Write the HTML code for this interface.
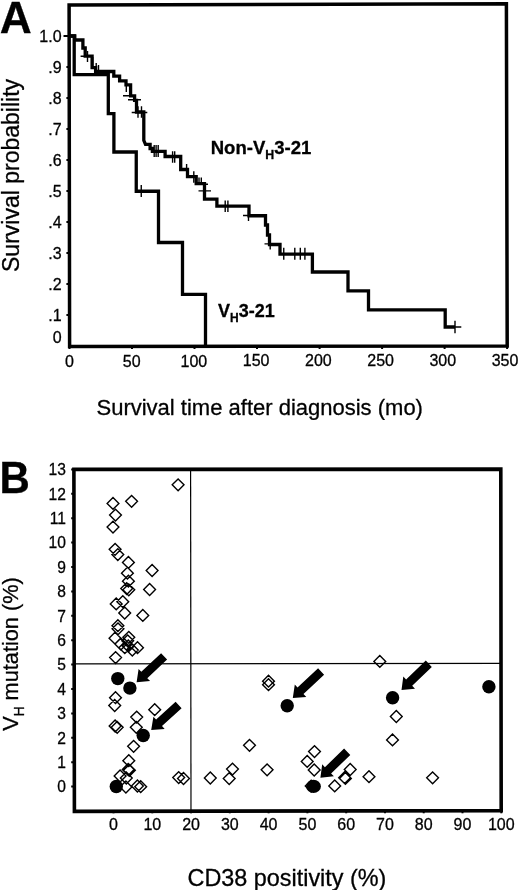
<!DOCTYPE html>
<html><head><meta charset="utf-8"><title>Figure</title>
<style>html,body{margin:0;padding:0;background:#fff}svg{display:block;filter:grayscale(1)}text{font-family:"Liberation Sans",Arial,sans-serif;fill:#000;stroke:#000;stroke-width:0.3px}</style>
</head><body>
<svg width="520" height="890" viewBox="0 0 520 890">
<rect width="520" height="890" fill="#fff"/>
<g opacity="0.999">
<g id="panelA">
<text x="-0.3" y="33" font-size="44.3" font-weight="bold">A</text>
<path d="M69.1,4.9 L506.4,3.8 L507.2,345.9 L69.6,346.6 Z" fill="none" stroke="#000" stroke-width="3.5" stroke-linejoin="miter"/>
<text x="61.6" y="343.0" font-size="16" text-anchor="end">0</text>
<line x1="66.4" y1="315.0" x2="68" y2="315.0" stroke="#000" stroke-width="2"/>
<text x="61.6" y="321.1" font-size="16" text-anchor="end">.1</text>
<line x1="66.4" y1="284.0" x2="68" y2="284.0" stroke="#000" stroke-width="2"/>
<text x="61.6" y="290.1" font-size="16" text-anchor="end">.2</text>
<line x1="66.4" y1="253.0" x2="68" y2="253.0" stroke="#000" stroke-width="2"/>
<text x="61.6" y="259.1" font-size="16" text-anchor="end">.3</text>
<line x1="66.4" y1="222.0" x2="68" y2="222.0" stroke="#000" stroke-width="2"/>
<text x="61.6" y="228.1" font-size="16" text-anchor="end">.4</text>
<line x1="66.4" y1="191.0" x2="68" y2="191.0" stroke="#000" stroke-width="2"/>
<text x="61.6" y="197.1" font-size="16" text-anchor="end">.5</text>
<line x1="66.4" y1="160.0" x2="68" y2="160.0" stroke="#000" stroke-width="2"/>
<text x="61.6" y="166.1" font-size="16" text-anchor="end">.6</text>
<line x1="66.4" y1="129.0" x2="68" y2="129.0" stroke="#000" stroke-width="2"/>
<text x="61.6" y="135.1" font-size="16" text-anchor="end">.7</text>
<line x1="66.4" y1="98.0" x2="68" y2="98.0" stroke="#000" stroke-width="2"/>
<text x="61.6" y="104.1" font-size="16" text-anchor="end">.8</text>
<line x1="66.4" y1="67.0" x2="68" y2="67.0" stroke="#000" stroke-width="2"/>
<text x="61.6" y="73.1" font-size="16" text-anchor="end">.9</text>
<line x1="63.5" y1="36.0" x2="68" y2="36.0" stroke="#000" stroke-width="2"/>
<text x="61.6" y="42.1" font-size="16" text-anchor="end">1.0</text>
<line x1="69.5" y1="346" x2="69.5" y2="349" stroke="#000" stroke-width="2"/>
<text x="69.5" y="366.8" font-size="16" text-anchor="middle">0</text>
<line x1="132.0" y1="346" x2="132.0" y2="349" stroke="#000" stroke-width="2"/>
<text x="131.7" y="366.7" font-size="16" text-anchor="middle">50</text>
<line x1="194.5" y1="346" x2="194.5" y2="349" stroke="#000" stroke-width="2"/>
<text x="193.9" y="366.5" font-size="16" text-anchor="middle">100</text>
<line x1="257.0" y1="346" x2="257.0" y2="349" stroke="#000" stroke-width="2"/>
<text x="256.1" y="366.4" font-size="16" text-anchor="middle">150</text>
<line x1="319.6" y1="346" x2="319.6" y2="349" stroke="#000" stroke-width="2"/>
<text x="318.4" y="366.3" font-size="16" text-anchor="middle">200</text>
<line x1="382.1" y1="346" x2="382.1" y2="349" stroke="#000" stroke-width="2"/>
<text x="380.6" y="366.2" font-size="16" text-anchor="middle">250</text>
<line x1="444.6" y1="346" x2="444.6" y2="349" stroke="#000" stroke-width="2"/>
<text x="442.8" y="366.0" font-size="16" text-anchor="middle">300</text>
<line x1="507.1" y1="346" x2="507.1" y2="349" stroke="#000" stroke-width="2"/>
<text x="505.0" y="365.9" font-size="16" text-anchor="middle">350</text>
<text transform="translate(18.7,272) rotate(-90)" font-size="23">Survival probability</text>
<text x="96.5" y="414.6" font-size="22">Survival time after diagnosis (mo)</text>
<path d="M69.5,36 H74.8 V40 H82.9 V48 H85.2 V56.2 H92.1 V67.7 H95.6 V71.5 H113.8 V76.2 H119.6 V80.8 H126 V84.8 H130.6 V95.8 H134.6 V100.4 H136.5 V112 H143.8 V140.4 L145.5,144.4 H150.1 V148.5 H152.4 V151.3 H165.1 V156.5 H180.7 V169.5 H187.5 V176.7 H196.2 V183.7 H204.5 V199.2 H216.9 V206.2 H249 V215.75 H265.5 V225 H267.5 V235 H269.5 V244.5 H280 V254.2 H312.4 V272 H348 V290.9 H368.5 V309.9 H445.2 V327 H455" fill="none" stroke="#000" stroke-width="3.3" stroke-linejoin="miter"/>
<path d="M69.5,36 H74.2 V74.6 H108.3 V113.7 H113.9 V152 H136.25 V191.25 H158.5 V242.5 H182.5 V294.3 H205.5 V346" fill="none" stroke="#000" stroke-width="3.3" stroke-linejoin="miter"/>
<path d="M87.5,51.0V62.0M92.7,57.0V67.0M96.2,63.0V73.0M98.5,65.0V75.0M126.3,84.0V92.0M138,106.2V117.8M141.5,106.2V117.8M154.2,145.0V157.0M156.1,145.0V157.0M158.2,145.0V157.0M172.6,151.2V162.8M174.7,151.2V162.8M186.6,164.0V171.0M193.8,171.2V182.8M199,177.5V184.5M201.3,177.5V184.5M225.2,200.4V212.0M227.9,200.4V212.0M248.5,210.0V221.0M270.2,238.4V249.4M283.75,247.7V259.7M294.8,247.7V259.7M300.3,247.7V259.7M304.9,247.7V259.7M455,320.8V333.2M141.25,185.0V197.0M80.6,56.2H88M123,95.8H134.6M128,99.8H141M131.7,112.5H147.3M200,184.2H208M198.5,190.9H211M243,215.5H254M264.5,243.9H275.5M448.8,327H461.3M136,191H147" fill="none" stroke="#000" stroke-width="1.4"/>
<text transform="translate(210.7,153.7) scale(1.03,1)" font-size="18" font-weight="bold">Non-V<tspan font-size="12" dy="4.8">H</tspan><tspan dy="-4.8">3-21</tspan></text>
<text x="218" y="317.2" font-size="18" font-weight="bold">V<tspan font-size="12" dy="5.1">H</tspan><tspan dy="-5.1">3-21</tspan></text>
</g>
<g id="panelB">
<text transform="translate(-0.6,493.4) scale(1,1.065)" font-size="42" font-weight="bold">B</text>
<path d="M73.9,469.4 L500.8,469.1 L501.2,810.6 L74.4,811.4 Z" fill="none" stroke="#000" stroke-width="3.6" stroke-linejoin="miter"/>
<line x1="71.2" y1="786.6" x2="73" y2="786.6" stroke="#000" stroke-width="2"/>
<text transform="translate(66,792.3) scale(0.92,1)" font-size="17" text-anchor="end">0</text>
<line x1="71.2" y1="762.2" x2="73" y2="762.2" stroke="#000" stroke-width="2"/>
<text transform="translate(66,767.9) scale(0.92,1)" font-size="17" text-anchor="end">1</text>
<line x1="71.2" y1="737.8" x2="73" y2="737.8" stroke="#000" stroke-width="2"/>
<text transform="translate(66,743.5) scale(0.92,1)" font-size="17" text-anchor="end">2</text>
<line x1="71.2" y1="713.4" x2="73" y2="713.4" stroke="#000" stroke-width="2"/>
<text transform="translate(66,719.1) scale(0.92,1)" font-size="17" text-anchor="end">3</text>
<line x1="71.2" y1="689.0" x2="73" y2="689.0" stroke="#000" stroke-width="2"/>
<text transform="translate(66,694.7) scale(0.92,1)" font-size="17" text-anchor="end">4</text>
<line x1="71.2" y1="664.6" x2="73" y2="664.6" stroke="#000" stroke-width="2"/>
<text transform="translate(66,670.3) scale(0.92,1)" font-size="17" text-anchor="end">5</text>
<line x1="71.2" y1="640.2" x2="73" y2="640.2" stroke="#000" stroke-width="2"/>
<text transform="translate(66,645.9) scale(0.92,1)" font-size="17" text-anchor="end">6</text>
<line x1="71.2" y1="615.8" x2="73" y2="615.8" stroke="#000" stroke-width="2"/>
<text transform="translate(66,621.5) scale(0.92,1)" font-size="17" text-anchor="end">7</text>
<line x1="71.2" y1="591.4" x2="73" y2="591.4" stroke="#000" stroke-width="2"/>
<text transform="translate(66,597.1) scale(0.92,1)" font-size="17" text-anchor="end">8</text>
<line x1="71.2" y1="567.0" x2="73" y2="567.0" stroke="#000" stroke-width="2"/>
<text transform="translate(66,572.7) scale(0.92,1)" font-size="17" text-anchor="end">9</text>
<line x1="71.2" y1="542.6" x2="73" y2="542.6" stroke="#000" stroke-width="2"/>
<text transform="translate(66,548.3) scale(0.92,1)" font-size="17" text-anchor="end">10</text>
<line x1="71.2" y1="518.2" x2="73" y2="518.2" stroke="#000" stroke-width="2"/>
<text transform="translate(66,523.9) scale(0.92,1)" font-size="17" text-anchor="end">11</text>
<line x1="71.2" y1="493.8" x2="73" y2="493.8" stroke="#000" stroke-width="2"/>
<text transform="translate(66,499.5) scale(0.92,1)" font-size="17" text-anchor="end">12</text>
<line x1="71.2" y1="469.4" x2="73" y2="469.4" stroke="#000" stroke-width="2"/>
<text transform="translate(66,475.1) scale(0.92,1)" font-size="17" text-anchor="end">13</text>
<line x1="113.5" y1="811" x2="113.5" y2="813.3" stroke="#000" stroke-width="2"/>
<text x="113.5" y="830" font-size="16" text-anchor="middle">0</text>
<line x1="152.3" y1="811" x2="152.3" y2="813.3" stroke="#000" stroke-width="2"/>
<text x="152.3" y="830" font-size="16" text-anchor="middle">10</text>
<line x1="191.1" y1="811" x2="191.1" y2="813.3" stroke="#000" stroke-width="2"/>
<text x="191.1" y="830" font-size="16" text-anchor="middle">20</text>
<line x1="229.8" y1="811" x2="229.8" y2="813.3" stroke="#000" stroke-width="2"/>
<text x="229.8" y="830" font-size="16" text-anchor="middle">30</text>
<line x1="268.6" y1="811" x2="268.6" y2="813.3" stroke="#000" stroke-width="2"/>
<text x="268.6" y="830" font-size="16" text-anchor="middle">40</text>
<line x1="307.4" y1="811" x2="307.4" y2="813.3" stroke="#000" stroke-width="2"/>
<text x="307.4" y="830" font-size="16" text-anchor="middle">50</text>
<line x1="346.2" y1="811" x2="346.2" y2="813.3" stroke="#000" stroke-width="2"/>
<text x="346.2" y="830" font-size="16" text-anchor="middle">60</text>
<line x1="385.0" y1="811" x2="385.0" y2="813.3" stroke="#000" stroke-width="2"/>
<text x="385.0" y="830" font-size="16" text-anchor="middle">70</text>
<line x1="423.7" y1="811" x2="423.7" y2="813.3" stroke="#000" stroke-width="2"/>
<text x="423.7" y="830" font-size="16" text-anchor="middle">80</text>
<line x1="462.5" y1="811" x2="462.5" y2="813.3" stroke="#000" stroke-width="2"/>
<text x="462.5" y="830" font-size="16" text-anchor="middle">90</text>
<line x1="501.3" y1="811" x2="501.3" y2="813.3" stroke="#000" stroke-width="2"/>
<text x="501.3" y="830" font-size="16" text-anchor="middle">100</text>
<line x1="74" y1="663.9" x2="501" y2="663.3" stroke="#000" stroke-width="1.3"/>
<line x1="190.6" y1="469" x2="191" y2="811" stroke="#000" stroke-width="1.2"/>
<text transform="translate(18.3,730.7) rotate(-90) scale(0.966,1)" font-size="22.5">V<tspan font-size="14" dy="5.9">H</tspan><tspan dy="-5.9"> mutation (%)</tspan></text>
<text transform="translate(187.5,885.6) scale(1.018,1)" font-size="23">CD38 positivity (%)</text>
<path d="M172.2,484.8L178.1,478.9L184.0,484.8L178.1,490.7ZM107.1,503.4L113.0,497.5L118.9,503.4L113.0,509.3ZM125.7,501.3L131.6,495.4L137.5,501.3L131.6,507.2ZM109.6,515.1L115.5,509.2L121.4,515.1L115.5,521.0ZM107.1,527.1L113.0,521.2L118.9,527.1L113.0,533.0ZM109.2,549.3L115.1,543.4L121.0,549.3L115.1,555.2ZM111.9,554.6L117.8,548.7L123.7,554.6L117.8,560.5ZM122.5,562.4L128.4,556.5L134.3,562.4L128.4,568.3ZM146.2,570.5L152.1,564.6L158.0,570.5L152.1,576.4ZM121.5,573.2L127.4,567.3L133.3,573.2L127.4,579.1ZM122.5,581.2L128.4,575.3L134.3,581.2L128.4,587.1ZM120.8,588.6L126.7,582.7L132.6,588.6L126.7,594.5ZM122.9,589.8L128.8,583.9L134.7,589.8L128.8,595.7ZM143.7,589.5L149.6,583.6L155.5,589.5L149.6,595.4ZM110.3,603.9L116.2,598.0L122.1,603.9L116.2,609.8ZM116.9,601.7L122.8,595.8L128.7,601.7L122.8,607.6ZM118.8,613.0L124.7,607.1L130.6,613.0L124.7,618.9ZM136.9,615.4L142.8,609.5L148.7,615.4L142.8,621.3ZM112.0,625.7L117.9,619.8L123.8,625.7L117.9,631.6ZM112.1,628.8L118.0,622.9L123.9,628.8L118.0,634.7ZM109.1,638.2L115.0,632.3L120.9,638.2L115.0,644.1ZM122.9,637.3L128.8,631.4L134.7,637.3L128.8,643.2ZM121.8,640.8L127.7,634.9L133.6,640.8L127.7,646.7ZM114.9,644.0L120.8,638.1L126.7,644.0L120.8,649.9ZM118.9,647.7L124.8,641.8L130.7,647.7L124.8,653.6ZM122.4,646.0L128.3,640.1L134.2,646.0L128.3,651.9ZM126.4,650.0L132.3,644.1L138.2,650.0L132.3,655.9ZM131.6,647.7L137.5,641.8L143.4,647.7L137.5,653.6ZM109.7,657.6L115.6,651.7L121.5,657.6L115.6,663.5ZM109.6,697.7L115.5,691.8L121.4,697.7L115.5,703.6ZM108.8,705.5L114.7,699.6L120.6,705.5L114.7,711.4ZM148.8,709.7L154.7,703.8L160.6,709.7L154.7,715.6ZM130.8,717.1L136.7,711.2L142.6,717.1L136.7,723.0ZM130.4,727.3L136.3,721.4L142.2,727.3L136.3,733.2ZM109.2,726.0L115.1,720.1L121.0,726.0L115.1,731.9ZM111.3,727.3L117.2,721.4L123.1,727.3L117.2,733.2ZM127.7,746.3L133.6,740.4L139.5,746.3L133.6,752.2ZM122.9,760.7L128.8,754.8L134.7,760.7L128.8,766.6ZM122.3,769.5L128.2,763.6L134.1,769.5L128.2,775.4ZM123.5,770.3L129.4,764.4L135.3,770.3L129.4,776.2ZM114.2,776.0L120.1,770.1L126.0,776.0L120.1,781.9ZM120.4,778.0L126.3,772.1L132.2,778.0L126.3,783.9ZM120.0,787.0L125.9,781.1L131.8,787.0L125.9,792.9ZM131.5,786.0L137.4,780.1L143.3,786.0L137.4,791.9ZM134.8,786.7L140.7,780.8L146.6,786.7L140.7,792.6ZM172.8,777.6L178.7,771.7L184.6,777.6L178.7,783.5ZM177.6,778.5L183.5,772.6L189.4,778.5L183.5,784.4ZM262.6,681.2L268.5,675.3L274.4,681.2L268.5,687.1ZM262.6,684.7L268.5,678.8L274.4,684.7L268.5,690.6ZM243.6,745.3L249.5,739.4L255.4,745.3L249.5,751.2ZM204.4,778.0L210.3,772.1L216.2,778.0L210.3,783.9ZM226.6,769.1L232.5,763.2L238.4,769.1L232.5,775.0ZM223.3,778.6L229.2,772.7L235.1,778.6L229.2,784.5ZM261.2,769.8L267.1,763.9L273.0,769.8L267.1,775.7ZM308.6,751.6L314.5,745.7L320.4,751.6L314.5,757.5ZM301.3,761.4L307.2,755.5L313.1,761.4L307.2,767.3ZM308.3,770.0L314.2,764.1L320.1,770.0L314.2,775.9ZM344.3,769.5L350.2,763.6L356.1,769.5L350.2,775.4ZM338.7,777.7L344.6,771.8L350.5,777.7L344.6,783.6ZM339.5,778.4L345.4,772.5L351.3,778.4L345.4,784.3ZM363.1,776.7L369.0,770.8L374.9,776.7L369.0,782.6ZM328.8,785.9L334.7,780.0L340.6,785.9L334.7,791.8ZM305.3,786.1L311.2,780.2L317.1,786.1L311.2,792.0ZM373.9,661.4L379.8,655.5L385.7,661.4L379.8,667.3ZM390.4,716.5L396.3,710.6L402.2,716.5L396.3,722.4ZM386.6,739.9L392.5,734.0L398.4,739.9L392.5,745.8ZM426.7,777.8L432.6,771.9L438.5,777.8L432.6,783.7Z" fill="none" stroke="#000" stroke-width="1.4" stroke-linejoin="miter"/>
<circle cx="117.8" cy="678.6" r="6.7" fill="#000"/>
<circle cx="129.9" cy="688.1" r="6.7" fill="#000"/>
<circle cx="143.2" cy="735.5" r="6.7" fill="#000"/>
<circle cx="116.3" cy="786.5" r="6.7" fill="#000"/>
<circle cx="287.2" cy="705.8" r="6.7" fill="#000"/>
<ellipse cx="313.5" cy="786.4" rx="7.4" ry="6.6" fill="#000"/>
<circle cx="392.6" cy="697.8" r="6.7" fill="#000"/>
<circle cx="488.9" cy="686.7" r="6.7" fill="#000"/>
<polygon points="161.1,653.2 141.3,671.8 138.6,668.9 136.6,682.3 150.1,681.1 147.3,678.2 167.1,659.6" fill="#000"/>
<polygon points="175.6,701.7 156.1,719.6 153.4,716.7 151.2,730.0 164.7,729.1 162.0,726.1 181.6,708.3" fill="#000"/>
<polygon points="318.1,668.3 297.5,687.5 294.8,684.6 292.8,698.0 306.3,696.9 303.5,694.0 324.1,674.7" fill="#000"/>
<polygon points="344.1,748.5 324.9,767.2 322.2,764.3 320.4,777.7 333.9,776.3 331.1,773.5 350.3,754.9" fill="#000"/>
<polygon points="425.8,660.6 406.1,679.5 403.3,676.6 401.5,690.0 415.0,688.7 412.2,685.8 431.8,667.0" fill="#000"/>
</g>
</g>
</svg></body></html>
